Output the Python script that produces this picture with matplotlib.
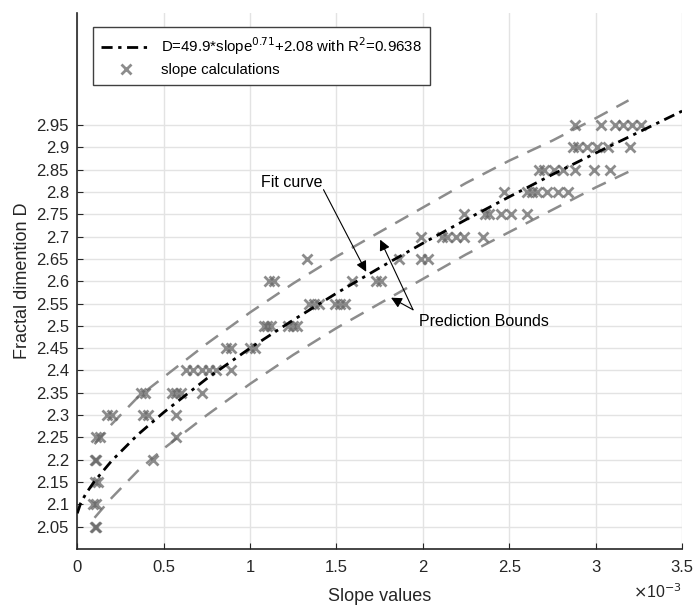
import matplotlib
matplotlib.use("Agg")
from matplotlib import pyplot as plt
from matplotlib.ticker import FuncFormatter

# fractal dimension levels and the slope values (x 1e-3) found at each level
d_levels = [2.05, 2.10, 2.15, 2.20, 2.25, 2.30, 2.35, 2.40, 2.45, 2.50,
            2.55, 2.60, 2.65, 2.70, 2.75, 2.80, 2.85, 2.90, 2.95]
slopes_at_level = [
    [0.10, 0.11],
    [0.09, 0.11],
    [0.10, 0.12],
    [0.10, 0.11, 0.44],
    [0.11, 0.13, 0.57],
    [0.17, 0.20, 0.38, 0.41, 0.57],
    [0.37, 0.39, 0.55, 0.57, 0.60, 0.72],
    [0.63, 0.67, 0.72, 0.76, 0.80, 0.89],
    [0.86, 0.89, 1.00, 1.03],
    [1.08, 1.10, 1.12, 1.22, 1.25, 1.27],
    [1.34, 1.37, 1.40, 1.49, 1.52, 1.55],
    [1.11, 1.14, 1.59, 1.73, 1.76],
    [1.33, 1.86, 1.99, 2.03],
    [1.99, 2.11, 2.14, 2.19, 2.24, 2.35],
    [2.24, 2.36, 2.38, 2.45, 2.51, 2.60],
    [2.47, 2.60, 2.63, 2.66, 2.72, 2.78, 2.84],
    [2.67, 2.70, 2.76, 2.81, 2.88, 2.99, 3.08],
    [2.87, 2.90, 2.95, 3.01, 3.07, 3.20],
    [2.88, 3.03, 3.11, 3.16, 3.21, 3.26],
]

# fit curve
fit_x = [0.0, 0.02, 0.05, 0.10, 0.20, 0.35, 0.50, 0.75, 1.00, 1.25, 1.50,
         1.75, 2.00, 2.25, 2.50, 2.75, 3.00, 3.25, 3.50]
fit_y = [2.080, 2.103, 2.124, 2.152, 2.198, 2.256, 2.306, 2.382, 2.450,
         2.513, 2.573, 2.630, 2.685, 2.738, 2.789, 2.839, 2.887, 2.934, 2.981]

# prediction bounds
bound_x = [0.10, 0.20, 0.35, 0.50, 0.75, 1.00, 1.25, 1.50, 1.75, 2.00,
           2.25, 2.50, 2.75, 3.00, 3.19]
upper_y = [2.235, 2.28, 2.34, 2.385, 2.46, 2.53, 2.595, 2.655, 2.71, 2.765,
           2.82, 2.87, 2.915, 2.965, 3.005]
lower_y = [2.07, 2.115, 2.175, 2.225, 2.30, 2.37, 2.435, 2.495, 2.55, 2.605,
           2.66, 2.71, 2.76, 2.81, 2.845]

fit_label = r"D=49.9*slope$^{0.71}$+2.08 with R$^{2}$=0.9638"

xs, ys = [], []
for lvl, row in zip(d_levels, slopes_at_level):
    for s in row:
        xs.append(s)
        ys.append(lvl)

plt.rcParams["font.family"] = ["Liberation Sans", "DejaVu Sans"]
txt = "#262626"
arrow_kw = dict(arrowstyle="-|>", color="black", lw=0.8,
                mutation_scale=16, shrinkA=0, shrinkB=0)

fig = plt.figure(figsize=(6.96, 6.06), dpi=100)
ax = fig.add_axes([0.111, 0.094, 0.869, 0.884])

ax.plot(bound_x, upper_y, color="#8c8c8c", lw=1.8, dashes=(6, 4))
ax.plot(bound_x, lower_y, color="#8c8c8c", lw=1.8, dashes=(6, 4))
pts, = ax.plot(xs, ys, ls="none", marker="x", ms=7, mew=2, color="#666666",
               alpha=0.75, label="slope calculations", zorder=3)
fit, = ax.plot(fit_x, fit_y, color="black", lw=2, dashes=(4, 2, 1.2, 2),
               label=fit_label, zorder=4)

ax.set_xlim(0, 3.5)
ax.set_ylim(2.0, 3.2)
ax.set_xticks([0, 0.5, 1, 1.5, 2, 2.5, 3, 3.5])
ax.set_yticks([2.05 + 0.05 * i for i in range(19)])
ax.xaxis.set_major_formatter(FuncFormatter(lambda v, p: "%g" % v))
ax.yaxis.set_major_formatter(FuncFormatter(lambda v, p: "%g" % round(v, 2)))
ax.tick_params(direction="in", length=4, labelsize=12, colors=txt)
ax.tick_params(axis="x", pad=8)
ax.tick_params(axis="y", pad=6)
ax.grid(True, color="#e3e3e3", lw=1)
ax.set_axisbelow(True)
for side in ("top", "right"):
    ax.spines[side].set_visible(False)
for side in ("left", "bottom"):
    ax.spines[side].set_color(txt)
    ax.spines[side].set_linewidth(1.2)

ax.set_xlabel("Slope values", fontsize=13, color=txt, labelpad=9)
ax.set_ylabel("Fractal dimention D", fontsize=13, color=txt, labelpad=4)
ax.text(1.0, -0.08, r"$\times$10$^{-3}$", transform=ax.transAxes,
        ha="right", va="center", fontsize=11.5, color=txt)

# annotations
ax.text(1.24, 2.82, "Fit curve", ha="center", va="center",
        fontsize=11.5, color="black")
ax.annotate("", xy=(1.672, 2.621), xytext=(1.425, 2.805), arrowprops=arrow_kw)
ax.text(1.98, 2.509, "Prediction Bounds", ha="left", va="center",
        fontsize=11.5, color="black")
for tip in [(1.753, 2.693), (1.816, 2.563)]:
    ax.annotate("", xy=tip, xytext=(1.943, 2.536), arrowprops=arrow_kw)

leg = ax.legend([fit, pts], [fit_label, "slope calculations"],
                loc="upper left", bbox_to_anchor=(0.026, 0.974),
                borderaxespad=0, fontsize=10.8, fancybox=False,
                framealpha=1, edgecolor="#404040", handlelength=3.3,
                handletextpad=0.7, borderpad=0.55, labelspacing=0.4)
leg.get_frame().set_linewidth(1.0)

fig.savefig("out.png", dpi=100)
